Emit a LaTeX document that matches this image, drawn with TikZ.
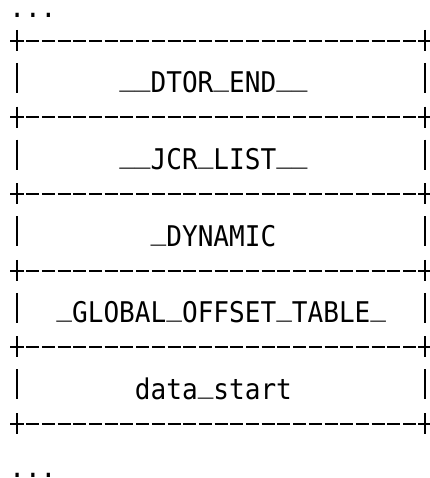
\documentclass[tikz,border=0pt]{standalone}
\usepackage{fontspec}
\newfontfamily\asciifont{DejaVu Sans Mono}[FakeStretch=0.915]
\newcommand{\ub}{\raisebox{0.25em}{\_}}
\begin{document}
\begin{tikzpicture}[x=1pt,y=-1pt,
  borderline/.style={line width=2pt},
  dashrule/.style={line width=2pt, dash pattern=on 13pt off 2.7pt, dash phase=14.35pt},
  celltext/.style={font=\asciifont\fontsize{28.5}{32}\selectfont, inner sep=0pt, anchor=base west}]
\useasboundingbox (0,0) rectangle (429,478);
% dots
\node[celltext] (dotstop) at (9.15,18) {...};
\node[celltext] (dotsbottom) at (9.15,477) {...};
% borders
\foreach \yb in {40.7,117.3,193.9,270.5,347.1,423.7}{
  \draw[borderline] (10,\yb) -- (24,\yb);
  \draw[borderline] (17,\yb-10.7) -- (17,\yb+10.3);
  \draw[dashrule] (24.85,\yb) -- (417.35,\yb);
  \draw[borderline] (418.2,\yb) -- (432.2,\yb);
  \draw[borderline] (425.2,\yb-10.7) -- (425.2,\yb+10.3);
}
% side bars
\foreach \yc in {79,155.6,232.2,308.8,385.4}{
  \draw[borderline] (17,\yc-16) -- (17,\yc+14);
  \draw[borderline] (425.2,\yc-16) -- (425.2,\yc+14);
}
% texts
\node[celltext] (dtor) at (119.05,93) {\ub\ub DTOR\ub END\ub\ub};
\node[celltext] (jcr) at (119.05,169.6) {\ub\ub JCR\ub LIST\ub\ub};
\node[celltext] (dynamic) at (150.45,246.2) {\ub DYNAMIC};
\node[celltext] (got) at (56.25,322.8) {\ub GLOBAL\ub OFFSET\ub TABLE\ub};
\node[celltext] (datastart) at (134.75,399.4) {data\ub start};
\end{tikzpicture}
\end{document}
